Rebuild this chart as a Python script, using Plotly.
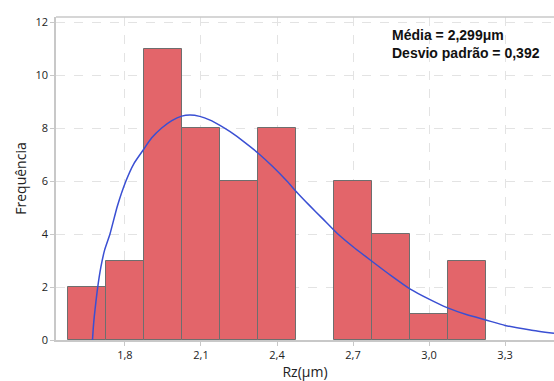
import plotly.graph_objects as go

# Histogram data (bin centers, counts), bin width 0.15
bin_centers = [1.65, 1.80, 1.95, 2.10, 2.25, 2.40, 2.55, 2.70, 2.85, 3.00, 3.15]
counts = [2, 3, 11, 8, 6, 8, 0, 6, 4, 1, 3]
bin_width = 0.15

# Fitted curve points
curve_x = [1.672, 1.675, 1.679, 1.685, 1.692, 1.705, 1.72, 1.741, 1.77, 1.804, 1.835, 1.872,
           1.905, 1.945, 1.985, 2.024, 2.057, 2.095, 2.136, 2.175, 2.215, 2.27,
           2.327, 2.385, 2.439, 2.48, 2.527, 2.58, 2.637, 2.70, 2.768, 2.85, 2.926, 3.0,
           3.071, 3.15, 3.224, 3.3, 3.4, 3.493]
curve_y = [0.0, 0.45, 0.88, 1.4, 1.95, 2.75, 3.4, 4.0, 5.05, 6.0, 6.65, 7.17,
           7.62, 8.0, 8.28, 8.45, 8.49, 8.44, 8.30, 8.1, 7.86, 7.48,
           7.04, 6.53, 6.0, 5.56, 5.09, 4.58, 4.03, 3.52, 3.02, 2.43, 1.92, 1.54,
           1.22, 0.95, 0.755, 0.55, 0.38, 0.25]

x_ticks = [1.8, 2.1, 2.4, 2.7, 3.0, 3.3]
x_tick_labels = ["1,8", "2,1", "2,4", "2,7", "3,0", "3,3"]
y_ticks = [0, 2, 4, 6, 8, 10, 12]

fig = go.Figure()
fig.add_trace(go.Bar(
    x=bin_centers, y=counts, width=bin_width,
    marker=dict(color="#E3656A",
                line=dict(color="#6E6E6E", width=[1 if c > 0 else 0 for c in counts])),
    hoverinfo="skip", showlegend=False))
fig.add_trace(go.Scatter(
    x=curve_x, y=curve_y, mode="lines", line=dict(color="#3A4FD3", width=1.5, shape="spline", smoothing=0.5),
    showlegend=False))

tick_font = dict(family="Open Sans, Noto Sans, sans-serif", size=11, color="#222222")
title_font = dict(family="Open Sans, Noto Sans, sans-serif", size=14, color="#222222")
fig.update_layout(
    width=554, height=381,
    margin=dict(l=56, r=0, t=17, b=41),
    plot_bgcolor="white", paper_bgcolor="white",
    bargap=0,
    xaxis=dict(range=[1.528, 3.493], tickvals=x_ticks, ticktext=x_tick_labels,
               showgrid=True, gridcolor="#e3e3e3", griddash="dash", gridwidth=1,
               showline=True, linecolor="#c8c8c8", linewidth=1.5,
               ticks="outside", ticklen=4, tickcolor="#c8c8c8",
               tickfont=tick_font, zeroline=False,
               title=dict(text="Rz(μm)", font=title_font, standoff=2)),
    yaxis=dict(range=[0, 12.19], tickvals=y_ticks,
               showgrid=True, gridcolor="#e3e3e3", griddash="dash", gridwidth=1,
               showline=True, linecolor="#c8c8c8", linewidth=1.5,
               ticks="outside", ticklen=4, tickcolor="#c8c8c8",
               tickfont=tick_font, zeroline=False,
               title=dict(text="Frequência", font=title_font, standoff=6)),
    shapes=[dict(type="line", xref="paper", yref="paper", x0=0, x1=1, y0=1, y1=1,
                 line=dict(color="#c8c8c8", width=1.5))],
    annotations=[dict(xref="paper", yref="paper", x=0.67, y=0.975, xanchor="left", yanchor="top",
                      align="left", showarrow=False,
                      text="<b>Média = 2,299μm<br>Desvio padrão = 0,392</b>",
                      font=dict(family="Liberation Sans, Arial, sans-serif", size=14, color="#111111"))],
)
fig.write_html("out.html", config={"displayModeBar": False},
               post_script="document.body.style.margin='0';document.body.style.overflow='hidden';")
